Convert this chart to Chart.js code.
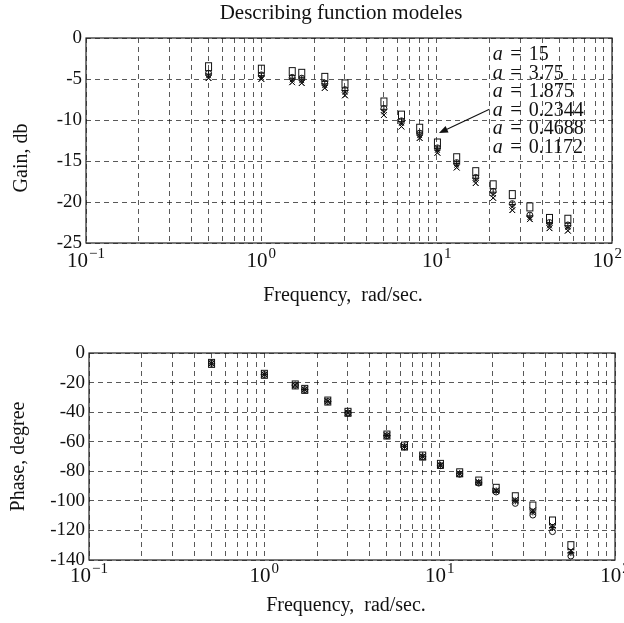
<!DOCTYPE html>
<html>
<head>
<meta charset="utf-8">
<script src="https://cdn.jsdelivr.net/npm/chart.js@4.4.0/dist/chart.umd.min.js"></script>
<style>
  html, body { margin: 0; padding: 0; background: #fff; }
  #top { position: absolute; left: 0; top: 0; width: 624px; height: 310px; }
  #bottom { position: absolute; left: 0; top: 310px; width: 624px; height: 313px; }
</style>
</head>
<body>
<div id="top"><canvas id="gainChart"></canvas></div>
<div id="bottom"><canvas id="phaseChart"></canvas></div>
<script>
// frequencies, rad/sec
const freq = [0.5, 1.0, 1.5, 1.7, 2.3, 3.0, 5.0, 6.3, 8.0, 10.1, 13, 16.7, 21, 27, 34, 44, 56];

const aValues = ["15", "3.75", "1.875", "0.2344", "0.4688", "0.1172"];

// gain, db
const gainA15    = [-3.5, -3.8, -4.1, -4.3, -4.8, -5.6, -7.8, -9.4, -11.0, -12.8, -14.6, -16.3, -17.9, -19.1, -20.6, -22.0, -22.1];
const gainA375   = [-4.3, -4.5, -4.8, -4.9, -5.5, -6.3, -8.6, -10.1, -11.6, -13.4, -15.2, -17.0, -18.7, -20.2, -21.6, -22.5, -22.8];
const gainA1875  = [-4.4, -4.6, -4.9, -5.0, -5.6, -6.4, -8.7, -10.2, -11.7, -13.5, -15.3, -17.1, -18.8, -20.3, -21.7, -22.6, -22.9];
const gainA2344  = [-4.9, -5.0, -5.4, -5.5, -6.1, -7.0, -9.4, -10.8, -12.2, -14.0, -15.8, -17.7, -19.5, -21.0, -22.1, -23.2, -23.5];
const gainA4688  = [-4.6, -4.8, -5.1, -5.2, -5.8, -6.6, -9.0, -10.4, -11.9, -13.7, -15.5, -17.3, -19.1, -20.6, -21.9, -22.9, -23.1];
const gainA1172  = [-4.9, -5.0, -5.4, -5.5, -6.1, -7.0, -9.4, -10.8, -12.2, -14.0, -15.8, -17.7, -19.5, -21.0, -22.1, -23.2, -23.5];

// phase, degree
const phaseA15   = [-7.0, -14.4, -21.6, -24.6, -32.5, -40.1, -55.5, -62.9, -69.7, -75.3, -81.0, -86.6, -91.5, -97.2, -103.5, -113.6, -130.3];
const phaseA375  = [-7.0, -14.6, -21.8, -24.8, -32.8, -40.6, -56.0, -63.5, -70.3, -76.2, -82.0, -88.0, -94.0, -101.7, -109.6, -120.8, -137.3];
const phaseA1875 = [-7.0, -14.5, -21.7, -24.7, -32.7, -40.4, -55.8, -63.3, -70.1, -75.9, -81.6, -87.5, -93.3, -100.0, -107.5, -118.0, -135.0];
const phaseA2344 = [-7.0, -14.5, -21.7, -24.7, -32.6, -40.3, -55.7, -63.2, -70.0, -75.8, -81.5, -87.3, -93.0, -99.4, -106.5, -116.8, -133.7];
const phaseA4688 = [-7.0, -14.5, -21.7, -24.7, -32.6, -40.4, -55.8, -63.3, -70.1, -76.0, -81.7, -87.6, -93.4, -100.4, -108.0, -118.5, -135.5];
const phaseA1172 = [-7.0, -14.5, -21.7, -24.7, -32.6, -40.3, -55.7, -63.2, -70.0, -75.8, -81.5, -87.3, -93.0, -99.4, -106.5, -116.8, -133.7];

// axis ticks
const gainTicks = [0, -5, -10, -15, -20, -25];
const phaseTicks = [0, -20, -40, -60, -80, -100, -120, -140];
const xDecades = [0.1, 1, 10, 100];
const xExponents = ["\u22121", "0", "1", "2"];

const serif = '"Liberation Serif", "DejaVu Serif", serif';
const gridColor = "rgba(0,0,0,0.65)";

// grid lines at 1..9 of every decade
const xGridValues = [];
[0.1, 1, 10].forEach(d => {
  for (let m = 1; m < 10; m++) xGridValues.push(m * d);
});
xGridValues.push(100);

// tall open rectangle marker like in the scan
function makeRectMarker(w, h) {
  const c = document.createElement("canvas");
  c.width = w + 2;
  c.height = h + 2;
  const g = c.getContext("2d");
  g.strokeStyle = "#111";
  g.lineWidth = 1;
  g.strokeRect(1.5, 1.5, w - 1, h - 1);
  return c;
}

const markerStyles = [
  { pointStyle: makeRectMarker(7, 9), pointRadius: 4 },
  { pointStyle: "circle", pointRadius: 3 },
  { pointStyle: "cross", pointRadius: 3.5 },
  { pointStyle: "crossRot", pointRadius: 4 },
  { pointStyle: "crossRot", pointRadius: 3.5 },
  { pointStyle: "crossRot", pointRadius: 4 }
];

function buildDatasets(series) {
  return series.map((vals, i) => ({
    label: "a = " + aValues[i],
    data: freq.map((f, j) => ({ x: f, y: vals[j] })),
    showLine: false,
    borderColor: "#111",
    backgroundColor: "rgba(0,0,0,0)",
    borderWidth: 1,
    pointStyle: markerStyles[i].pointStyle,
    pointRadius: markerStyles[i].pointRadius
  }));
}

function drawXLabels(ctx, chart, baseOffset, maxRight) {
  const area = chart.chartArea;
  const xs = chart.scales.x;
  ctx.fillStyle = "#111";
  ctx.textAlign = "left";
  ctx.textBaseline = "alphabetic";
  xDecades.forEach((v, i) => {
    const px = xs.getPixelForValue(v);
    ctx.font = "21px " + serif;
    const w1 = ctx.measureText("10").width;
    ctx.font = "15px " + serif;
    const w2 = ctx.measureText(xExponents[i]).width;
    let left = px - (w1 + w2 + 1) / 2;
    if (maxRight && left + w1 + w2 + 1 > maxRight) left = maxRight - (w1 + w2 + 1);
    const yb = area.bottom + baseOffset;
    ctx.font = "21px " + serif;
    ctx.fillText("10", left, yb);
    ctx.font = "15px " + serif;
    ctx.fillText(xExponents[i], left + w1 + 1, yb - 9);
  });
}

function drawYTitle(ctx, text, x, y) {
  ctx.save();
  ctx.translate(x, y);
  ctx.rotate(-Math.PI / 2);
  ctx.font = "20px " + serif;
  ctx.fillStyle = "#111";
  ctx.textAlign = "center";
  ctx.textBaseline = "middle";
  ctx.fillText(text, 0, 0);
  ctx.restore();
}

function drawFrame(ctx, area) {
  ctx.strokeStyle = "#222";
  ctx.lineWidth = 1.2;
  ctx.setLineDash([]);
  ctx.strokeRect(area.left, area.top, area.right - area.left, area.bottom - area.top);
}

const gainDecor = {
  id: "gainDecor",
  afterDraw(chart) {
    const { ctx, chartArea } = chart;
    const xs = chart.scales.x, ys = chart.scales.y;
    ctx.save();
    drawFrame(ctx, chartArea);

    ctx.fillStyle = "#111";
    ctx.textAlign = "center";
    ctx.textBaseline = "middle";
    ctx.font = "21px " + serif;
    ctx.fillText("Describing function modeles", 341, 13);
    ctx.font = "20px " + serif;
    ctx.fillText("Frequency,  rad/sec.", 343, chartArea.bottom + 53);

    drawXLabels(ctx, chart, 24, 622);
    drawYTitle(ctx, "Gain, db", 22, 158);

    // legend text block
    const lx = xs.getPixelForValue(20.9);
    let ly = ys.getPixelForValue(-2.7);
    ctx.textBaseline = "alphabetic";
    aValues.forEach(v => {
      ctx.textAlign = "left";
      ctx.font = "italic 20px " + serif;
      ctx.fillText("a", lx, ly);
      ctx.font = "20px " + serif;
      ctx.textAlign = "center";
      ctx.fillText("=", lx + 23, ly);
      ctx.textAlign = "left";
      ctx.fillText(v, lx + 36, ly);
      ly += 18.5;
    });

    // arrow from the label to the curves
    const tx = xs.getPixelForValue(20), ty = ys.getPixelForValue(-8.7);
    const hx = xs.getPixelForValue(10.3), hy = ys.getPixelForValue(-11.6);
    const ang = Math.atan2(hy - ty, hx - tx);
    ctx.strokeStyle = "#111";
    ctx.lineWidth = 1.1;
    ctx.beginPath();
    ctx.moveTo(tx, ty);
    ctx.lineTo(hx - 6 * Math.cos(ang), hy - 6 * Math.sin(ang));
    ctx.stroke();
    ctx.beginPath();
    ctx.moveTo(hx, hy);
    ctx.lineTo(hx - 9 * Math.cos(ang) + 3.5 * Math.sin(ang), hy - 9 * Math.sin(ang) - 3.5 * Math.cos(ang));
    ctx.lineTo(hx - 9 * Math.cos(ang) - 3.5 * Math.sin(ang), hy - 9 * Math.sin(ang) + 3.5 * Math.cos(ang));
    ctx.closePath();
    ctx.fill();
    ctx.restore();
  }
};

const phaseDecor = {
  id: "phaseDecor",
  afterDraw(chart) {
    const { ctx, chartArea } = chart;
    ctx.save();
    drawFrame(ctx, chartArea);
    ctx.fillStyle = "#111";
    ctx.font = "20px " + serif;
    ctx.textAlign = "center";
    ctx.textBaseline = "middle";
    ctx.fillText("Frequency,  rad/sec.", 346, chartArea.bottom + 46);
    drawXLabels(ctx, chart, 22, 0);
    drawYTitle(ctx, "Phase, degree", 19, (chartArea.top + chartArea.bottom) / 2);
    ctx.restore();
  }
};

function makeOptions(yTicks, yWidth, xHeight, padRight, padTop) {
  return {
    responsive: true,
    maintainAspectRatio: false,
    animation: false,
    layout: { padding: { top: padTop, right: padRight, left: 0, bottom: 0 } },
    plugins: {
      legend: { display: false },
      tooltip: { enabled: false }
    },
    scales: {
      x: {
        type: "logarithmic",
        min: 0.1,
        max: 100,
        afterBuildTicks: s => { s.ticks = xGridValues.map(v => ({ value: v })); },
        afterFit: s => { s.height = xHeight; },
        ticks: { display: false },
        grid: { color: gridColor, lineWidth: 1, drawTicks: false },
        border: { display: false, dash: [5, 4] }
      },
      y: {
        min: yTicks[yTicks.length - 1],
        max: yTicks[0],
        afterBuildTicks: s => { s.ticks = yTicks.map(v => ({ value: v })); },
        afterFit: s => { s.width = yWidth; },
        ticks: {
          padding: 4,
          color: "#111",
          font: { family: serif, size: 19 }
        },
        grid: { color: gridColor, lineWidth: 1, drawTicks: false },
        border: { display: false, dash: [5, 4] }
      }
    }
  };
}

new Chart(document.getElementById("gainChart").getContext("2d"), {
  type: "scatter",
  data: { datasets: buildDatasets([gainA15, gainA375, gainA1875, gainA2344, gainA4688, gainA1172]) },
  options: makeOptions(gainTicks, 86, 67, 12, 38),
  plugins: [gainDecor]
});

new Chart(document.getElementById("phaseChart").getContext("2d"), {
  type: "scatter",
  data: { datasets: buildDatasets([phaseA15, phaseA375, phaseA1875, phaseA2344, phaseA4688, phaseA1172]) },
  options: makeOptions(phaseTicks, 89, 63, 9, 43),
  plugins: [phaseDecor]
});
</script>
</body>
</html>
